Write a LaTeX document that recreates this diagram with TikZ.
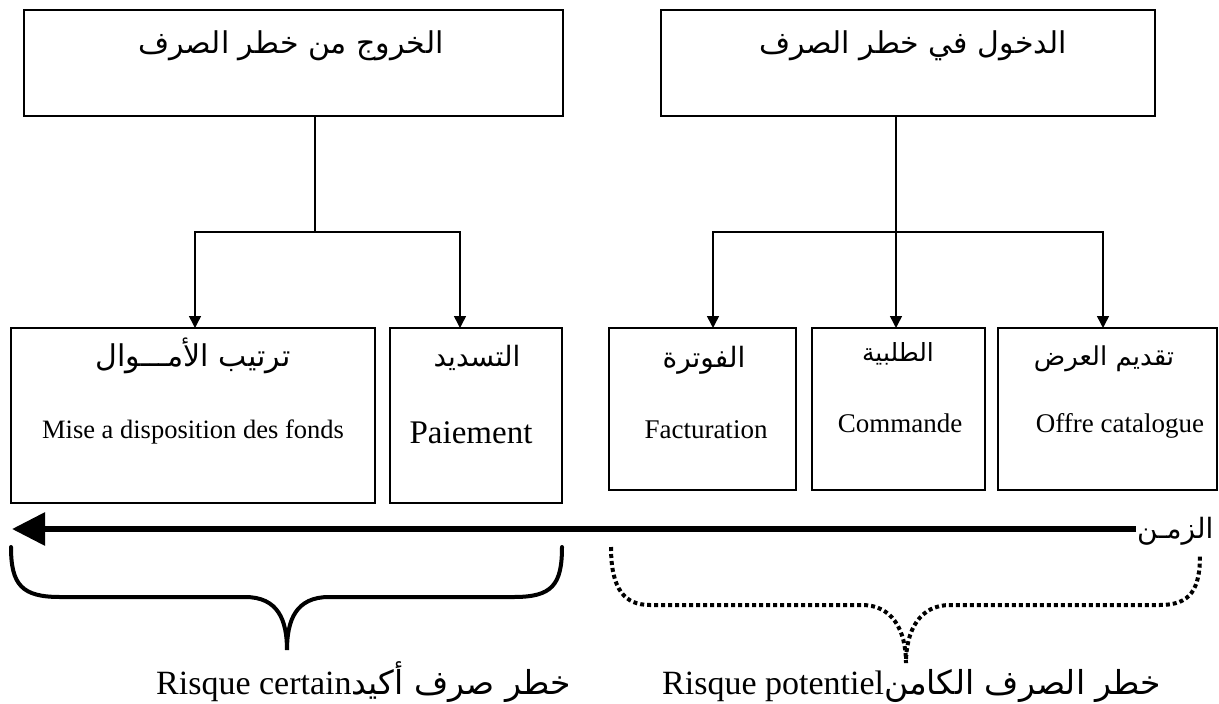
\documentclass[tikz,border=0pt]{standalone}
\usepackage{fontspec}
\setmainfont{Liberation Serif}
\newfontfamily\arabicfont[Script=Arabic]{DejaVu Sans}
\TeXXeTstate=1
\usetikzlibrary{arrows.meta}
\begin{document}
\begin{tikzpicture}[x=1pt,y=-1pt,
  box/.style={draw, line width=1.5pt, inner sep=0pt, outer sep=0pt},
  wire/.style={line width=1.5pt},
  conn/.style={line width=1.5pt, -{Triangle[length=12pt,width=12pt]}},
  ar/.style={anchor=base, inner sep=0pt, font=\arabicfont\fontsize{#1}{#1}\selectfont},
  la/.style={anchor=base, inner sep=0pt, font=\fontsize{#1}{#1}\selectfont},
]
\useasboundingbox (0,0) rectangle (1219,704);
% boxes
\node[box, minimum width=539pt, minimum height=106pt] (tl) at (293.5,63) {};
\node[box, minimum width=494pt, minimum height=106pt] (tr) at (908,63) {};
\node[box, minimum width=364pt, minimum height=175pt] (b1) at (193,415.5) {};
\node[box, minimum width=172pt, minimum height=175pt] (b2) at (476,415.5) {};
\node[box, minimum width=187pt, minimum height=162pt] (b3) at (702.5,409) {};
\node[box, minimum width=173pt, minimum height=162pt] (b4) at (898.5,409) {};
\node[box, minimum width=219pt, minimum height=162pt] (b5) at (1107.5,409) {};
% texts
\node[ar=30] (tlt) at (291,53) {\beginR الخروج من خطر الصرف\endR};
\node[ar=30] (trt) at (913,53) {\beginR الدخول في خطر الصرف\endR};
\node[ar=30] (b1a) at (193,366) {\beginR ترتيب الأمـــوال\endR};
\node[la=26.5] (b1l) at (193,438) {Mise a disposition des fonds};
\node[ar=28] (b2a) at (477,366) {\beginR التسديد\endR};
\node[la=33] (b2l) at (471,443) {Paiement};
\node[ar=28] (b3a) at (704,367) {\beginR الفوترة\endR};
\node[la=27] (b3l) at (706,438) {Facturation};
\node[ar=25] (b4a) at (898,361) {\beginR الطلبية\endR};
\node[la=27] (b4l) at (900,432) {Commande};
\node[ar=26] (b5a) at (1104,365) {\beginR تقديم العرض\endR};
\node[la=27] (b5l) at (1120,432) {Offre catalogue};
% connectors
\coordinate (jl) at (315,232);
\coordinate (jr) at (896,232);
\draw[wire] (tl.south -| jl) -- (jl);
\draw[conn] (jl) -| ([xshift=2pt]b1.north);
\draw[conn] (jl) -| ([xshift=-16pt]b2.north);
\draw[wire] (tr.south -| jr) -- (jr);
\draw[conn] (jr) -| ([xshift=10.5pt]b3.north);
\draw[conn] (jr) -- (b4.north -| jr);
\draw[conn] (jr) -| ([xshift=-4.5pt]b5.north);
% time axis
\node[ar=28, anchor=base west] (zaman) at (1137,538) {\beginR الزمـن\endR};
\coordinate (tstart) at (1136,529);
\coordinate (tend) at (12,529);
\draw[line width=6pt, -{Triangle[length=33pt,width=32pt]}] (tstart) -- (tend);
% solid brace
\draw[line width=4pt, line cap=round]
  (11,547) .. controls (11,585) and (22,597) .. (60,597) -- (245,597)
  .. controls (278,597) and (287,620) .. (287,650)
  .. controls (287,620) and (296,597) .. (329,597) -- (514,597)
  .. controls (552,597) and (562,585) .. (562,547);
% dotted brace
\draw[line width=4pt, dash pattern=on 4pt off 3pt]
  (611,547) .. controls (611,590) and (625,605) .. (650,605) -- (862,605)
  .. controls (892,605) and (906,630) .. (906,663)
  .. controls (906,630) and (920,605) .. (950,605) -- (1160,605)
  .. controls (1190,605) and (1200,590) .. (1200,555);
% labels
\node[anchor=base west, inner sep=0pt, font=\fontsize{34}{34}\selectfont] (lab1) at (156,694)
  {Risque certain{\arabicfont\fontsize{33}{33}\selectfont\beginR خطر صرف أكيد\endR}};
\node[anchor=base west, inner sep=0pt, font=\fontsize{34}{34}\selectfont] (lab2) at (662,694)
  {Risque potentiel{\arabicfont\fontsize{33}{33}\selectfont\beginR خطر الصرف الكامن\endR}};
\end{tikzpicture}
\end{document}
